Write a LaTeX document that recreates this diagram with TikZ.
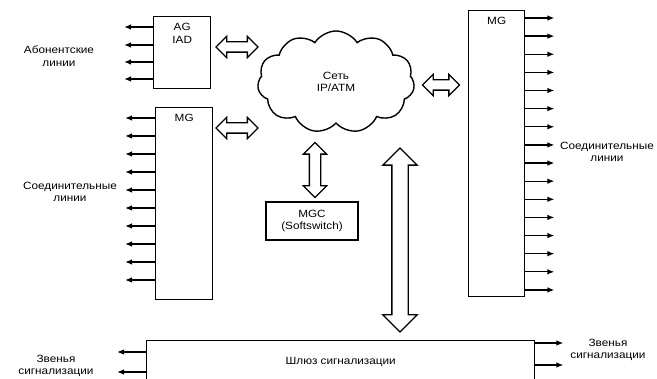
\documentclass[tikz,border=0pt]{standalone}
\usepackage{fontspec}
\setmainfont{Liberation Sans}[FakeStretch=1.12]
\usetikzlibrary{shapes.symbols,shapes.arrows,arrows.meta}

\begin{document}
\begin{tikzpicture}[x=1pt, y=-1pt,
    every node/.style={font=\fontsize{10.5}{12.5}\selectfont, align=center},
    box/.style={draw, line width=1.4pt, inner sep=0pt, anchor=north west},
    wire/.style={line width=1.3pt, -{Latex[length=7pt,width=5.5pt]}},
    dbl/.style={draw, double arrow, line width=1.3pt, inner xsep=0pt, inner ysep=4.5pt,
        double arrow head extend=5.5pt, minimum width=20pt, minimum height=#1}]
        \useasboundingbox (0,0) rectangle (657,379);
        \clip (0,0) rectangle (657,379);
        % Gateways
        \node[box, minimum width=57, minimum height=72] (ag) at (153,16) {};
        \node[below=4pt] (agtxt) at (ag.north) {AG\\IAD};
        \node[box, minimum width=57, minimum height=192] (mgl) at (155,107) {};
        \node[below=4pt] (mgltxt) at (mgl.north) {MG};
        \node[box, minimum width=56, minimum height=286] (mgr) at (468,10) {};
        \node[below=4pt] (mgrtxt) at (mgr.north) {MG};
        \node[box, minimum width=388, minimum height=42] (sg) at (146,340) {Шлюз сигнализации};
        % Network and controller
        \node[draw, cloud, cloud puffs=11, cloud puff arc=115, aspect=1.55, line width=1.4pt,
            minimum width=157, minimum height=102, inner sep=0pt] (net) at (336,82) {Сеть\\IP/ATM};
        \node[box, minimum width=92, minimum height=38, anchor=center] (mgc) at (312,221) {MGC\\(Softswitch)};
        % Wide arrows
        \node[dbl=42] (agnet) at (237,47) {};
        \node[dbl=42] (mgnet) at (237,128) {};
        \node[dbl=37] (netmg) at (441,85) {};
        \node[dbl=55, rotate=90, inner ysep=5pt, double arrow head extend=6pt, minimum width=22pt] (netmgc) at (315,170) {};
        \node[dbl=184, rotate=90, inner ysep=7.5pt, double arrow head extend=9pt, minimum width=33pt] (netsg) at (400,240) {};
        % Lines
        \foreach \y in {27,45,62,79}
            \draw[wire] (ag.west |- 0,\y) -- ++(-29,0);
        \foreach \i in {0,...,9}
            \draw[wire] (mgl.west |- 0,118+18*\i) -- ++(-30,0);
        \foreach \i in {0,...,15}
            \draw[wire] (mgr.east |- 0,18+18.13*\i) -- ++(29,0);
        \foreach \y in {352,372}
            \draw[wire] (sg.west |- 0,\y) -- ++(-29,0);
        \foreach \y in {343,365}
            \draw[wire] (sg.east |- 0,\y) -- ++(28,0);
        % Side labels
        \node (subl) at (59,56) {Абонентские\\линии};
        \node (trkl) at (70,192) {Соединительные\\линии};
        \node (trkr) at (607,152) {Соединительные\\линии};
        \node (sigl) at (56,366) {Звенья\\сигнализации};
        \node (sigr) at (608,350) {Звенья\\сигнализации};
    \end{tikzpicture}
\end{document}
